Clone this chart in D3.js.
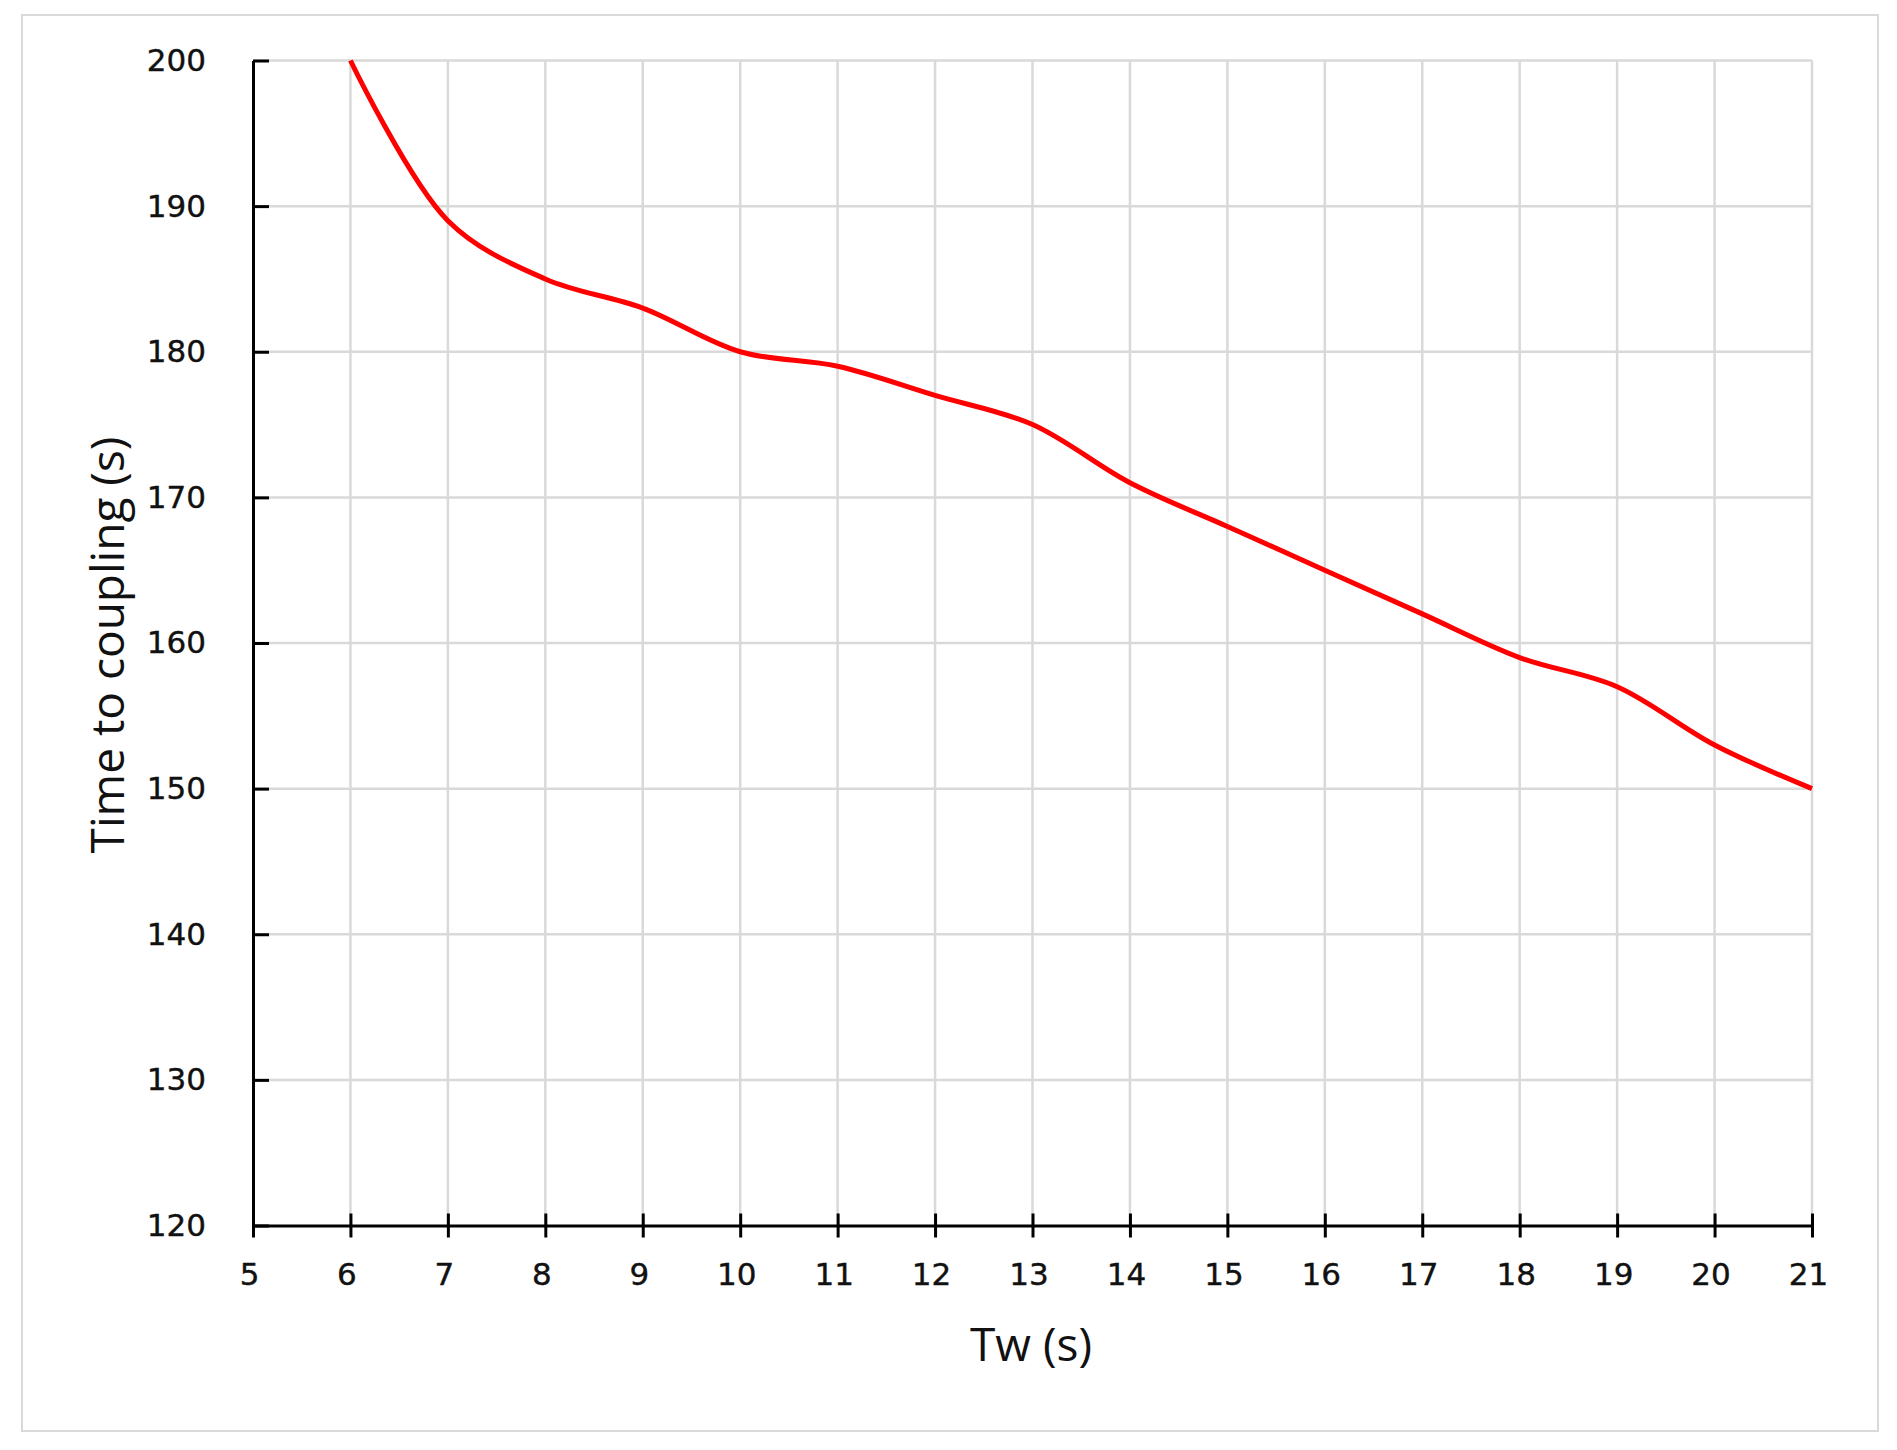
<!DOCTYPE html>
<html>
<head>
<meta charset="utf-8">
<script src="https://cdn.jsdelivr.net/npm/d3@7"></script>
<style>
    body { margin: 0; background: #fff; }
    .tick text { fill: #111; stroke: #111; stroke-width: 0.4px; }
</style>
</head>
<body>
<div class="svg-container"></div>
<script>
// Tw (s) values and time to coupling (s)
var twValues = [6, 7, 8, 9, 10, 11, 12, 13, 14, 15, 16, 17, 18, 19, 20, 21];
var couplingTimes = [200, 189, 185, 183, 180, 179, 177, 175, 171, 168, 165, 162, 159, 157, 153, 150];
var xTicks = [5, 6, 7, 8, 9, 10, 11, 12, 13, 14, 15, 16, 17, 18, 19, 20, 21];
var yTicks = [120, 130, 140, 150, 160, 170, 180, 190, 200];

var width = 1897;
var height = 1450;
var plotLeft = 253, plotRight = 1812, plotTop = 60.5, plotBottom = 1225.5;

var svg = d3.select(".svg-container").append("svg")
    .attr("width", width)
    .attr("height", height);

// outer frame
svg.append("rect")
    .attr("x", 22).attr("y", 15)
    .attr("width", 1856).attr("height", 1416)
    .attr("fill", "#fff")
    .attr("stroke", "#d9d9d9")
    .attr("stroke-width", 2);

var x = d3.scaleLinear().domain([5, 21]).range([plotLeft, plotRight]);
var y = d3.scaleLinear().domain([120, 200]).range([plotBottom, plotTop]);

// grid
svg.append("g")
    .selectAll("line")
    .data(xTicks.slice(1))
    .enter().append("line")
    .attr("x1", d => x(d)).attr("x2", d => x(d))
    .attr("y1", plotTop).attr("y2", plotBottom)
    .attr("stroke", "#d9d9d9")
    .attr("stroke-width", 2.5);

svg.append("g")
    .selectAll("line")
    .data(yTicks.slice(1))
    .enter().append("line")
    .attr("x1", plotLeft).attr("x2", plotRight)
    .attr("y1", d => y(d)).attr("y2", d => y(d))
    .attr("stroke", "#d9d9d9")
    .attr("stroke-width", 2.5);

// X axis (ticks cross the line)
var xAxis = svg.append("g")
    .attr("transform", "translate(0," + plotBottom + ")")
    .call(d3.axisBottom(x).tickValues(xTicks).tickSize(12).tickSizeOuter(0).tickPadding(25));
xAxis.select(".domain").attr("stroke", "#000").attr("stroke-width", 3);
xAxis.selectAll(".tick line")
    .attr("y1", -12)
    .attr("stroke", "#000").attr("stroke-width", 3);
xAxis.selectAll(".tick text")
    .attr("dx", -4)
    .style("font-family", "DejaVu Sans")
    .style("font-size", "31px");

// Y axis (ticks point inward)
var yAxis = svg.append("g")
    .attr("transform", "translate(" + plotLeft + ",0)")
    .call(d3.axisLeft(y).tickValues(yTicks).tickSize(-16).tickSizeOuter(0).tickPadding(47));
yAxis.select(".domain").attr("stroke", "#000").attr("stroke-width", 3);
yAxis.selectAll(".tick line").attr("stroke", "#000").attr("stroke-width", 3);
yAxis.selectAll(".tick text")
    .style("font-family", "DejaVu Sans")
    .style("font-size", "31px");

// Axis labels
svg.append("text")
    .attr("x", 1031)
    .attr("y", 1361)
    .style("text-anchor", "middle")
    .style("font-family", "Open Sans")
    .style("font-size", "46px")
    .attr("fill", "#111")
    .text("Tw (s)");

svg.append("text")
    .attr("transform", "translate(124,645) rotate(-90)")
    .style("text-anchor", "middle")
    .style("font-family", "Open Sans")
    .style("font-size", "46px")
    .attr("fill", "#111")
    .text("Time to coupling (s)");

// Line
var line = d3.line()
    .x(function(d, i) { return x(twValues[i]); })
    .y(function(d) { return y(d); })
    .curve(d3.curveCatmullRom.alpha(0.5));

svg.append("path")
    .datum(couplingTimes)
    .attr("d", line)
    .attr("fill", "none")
    .attr("stroke", "#ff0000")
    .attr("stroke-width", 5);
</script>
</body>
</html>
